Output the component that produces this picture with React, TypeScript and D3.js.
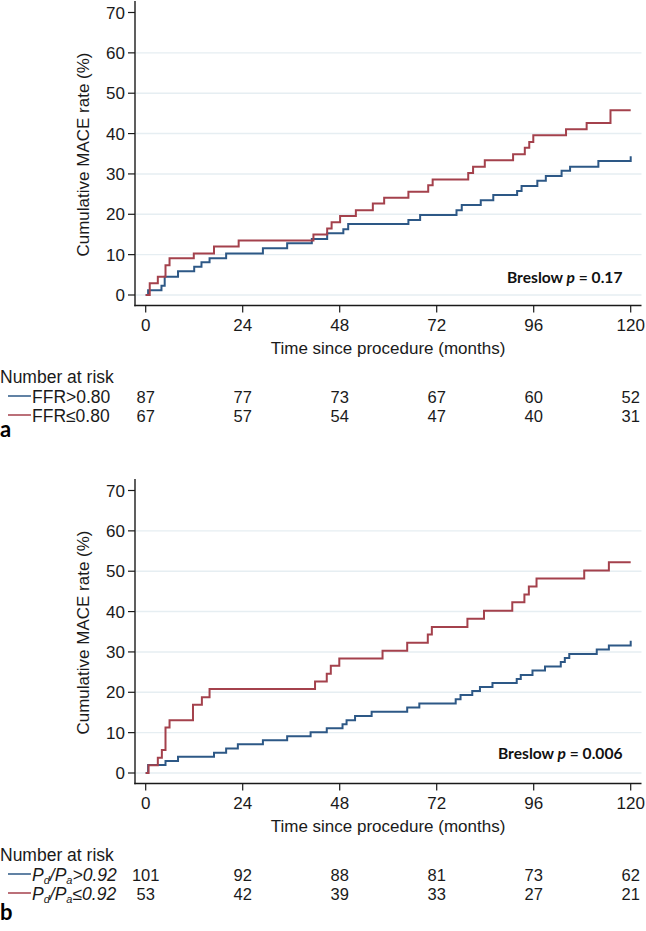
import React from "react";
import * as d3 from "d3";

const xTicks = [0, 24, 48, 72, 96, 120];
const yTicks = [0, 10, 20, 30, 40, 50, 60, 70];
const gridValues = [0, 10, 20, 30, 40, 50, 60];

// Panel a: FFR>0.80 (blue), FFR<=0.80 (red)
const aBlueTimes = [0.6, 3.9, 4.7, 8.0, 12.0, 13.8, 15.8, 19.9, 29.0, 35.0, 41.1, 44.9, 48.9, 50.1, 65.0, 67.9, 76.9, 78.2, 82.9, 86.0, 91.9, 93.0, 96.9, 99.0, 102.9, 105.0, 112.0, 120];
const aBlueValues = [1.2, 2.3, 4.5, 5.9, 7.0, 8.1, 9.1, 10.3, 11.6, 12.8, 13.9, 15.3, 16.3, 17.6, 18.6, 19.8, 21.0, 22.3, 23.5, 24.8, 25.8, 27.0, 28.3, 29.5, 30.8, 31.8, 33.2, 34.4];
const aRedTimes = [1.0, 3.0, 4.9, 5.9, 11.9, 16.9, 23.0, 41.5, 44.9, 46.0, 48.1, 52.0, 56.2, 59.0, 65.0, 69.9, 71.0, 79.8, 81.0, 83.9, 90.9, 93.8, 94.9, 95.9, 104.0, 109.1, 115.0];
const aRedValues = [2.9, 4.5, 7.4, 9.1, 10.3, 12.0, 13.5, 15.0, 16.5, 18.0, 19.6, 21.0, 22.7, 24.1, 25.6, 27.2, 28.6, 30.2, 31.8, 33.4, 34.9, 36.5, 37.9, 39.6, 41.1, 42.6, 45.8];

// Panel b: Pd/Pa>0.92 (blue), Pd/Pa<=0.92 (red)
const bBlueTimes = [0.6, 4.9, 8.0, 16.9, 19.9, 22.8, 29.0, 35.0, 40.8, 44.8, 48.7, 49.7, 51.8, 55.9, 64.7, 67.7, 76.7, 77.9, 80.8, 82.7, 85.8, 91.8, 92.8, 95.7, 98.8, 102.7, 103.7, 104.8, 111.6, 114.6, 120];
const bBlueValues = [2.0, 3.0, 4.0, 5.0, 6.1, 7.1, 8.1, 9.1, 10.1, 11.1, 12.1, 13.1, 14.1, 15.2, 16.2, 17.2, 18.3, 19.3, 20.3, 21.3, 22.3, 23.3, 24.3, 25.4, 26.4, 27.5, 28.5, 29.5, 30.6, 31.6, 32.8];
const bRedTimes = [0.7, 3.0, 4.0, 4.9, 5.9, 11.7, 13.9, 15.8, 41.9, 44.8, 45.8, 47.9, 58.6, 64.7, 69.8, 70.8, 79.6, 83.7, 90.7, 93.7, 94.8, 96.7, 108.5, 114.6];
const bRedValues = [1.9, 3.8, 5.7, 11.3, 13.1, 16.9, 18.8, 20.8, 22.7, 24.6, 26.6, 28.4, 30.3, 32.3, 34.3, 36.2, 38.2, 40.2, 42.3, 44.2, 46.2, 48.2, 50.2, 52.2];

const aRiskBlue = [87, 77, 73, 67, 60, 52];
const aRiskRed = [67, 57, 54, 47, 40, 31];
const bRiskBlue = [101, 92, 88, 81, 73, 62];
const bRiskRed = [53, 42, 39, 33, 27, 21];

const BLUE = "#2d5886";
const RED = "#a4414c";
const FONT = "'Liberation Sans', Arial, sans-serif";
const BOLD_FONT = "Lato, 'Open Sans', sans-serif";

function stepPoints(times: number[], values: number[], end: number): [number, number][] {
  const pts: [number, number][] = [[0, 0]];
  times.forEach((t, i) => pts.push([t, values[i]]));
  const last = pts[pts.length - 1];
  if (last[0] < end) pts.push([end, last[1]]);
  return pts;
}

type PanelProps = {
  oy: number;
  blueT: number[]; blueV: number[];
  redT: number[]; redV: number[];
  riskBlue: number[]; riskRed: number[];
  legendBlue: React.ReactNode; legendRed: React.ReactNode;
  pValue: string; pX: number; pY: number;
};

function Panel(p: PanelProps) {
  const { oy } = p;
  const x = d3.scaleLinear().domain([0, 120]).range([145.7, 630.7]);
  const y = d3.scaleLinear().domain([0, 70]).range([295 + oy, 12.5 + oy]);
  const line = d3.line<[number, number]>().x(d => x(d[0])).y(d => y(d[1])).curve(d3.curveStepAfter);
  const axisX = 135;
  const axisY = 305.5 + oy;
  const right = 641.5;
  const top = 1 + oy;
  return (
    <g>
      {gridValues.map(v => (
        <line key={"g" + v} x1={axisX + 1} x2={right} y1={y(v)} y2={y(v)} stroke="#e6eef2" strokeWidth={1.4} />
      ))}
      <path d={line(stepPoints(p.blueT, p.blueV, 120)) || ""} fill="none" stroke={BLUE} strokeWidth={2} />
      <path d={line(stepPoints(p.redT, p.redV, 120)) || ""} fill="none" stroke={RED} strokeWidth={2} />
      <line x1={axisX} x2={axisX} y1={top} y2={axisY + 0.7} stroke="#1a1a1a" strokeWidth={1.4} />
      <line x1={axisX - 0.7} x2={right} y1={axisY} y2={axisY} stroke="#1a1a1a" strokeWidth={1.4} />
      {yTicks.map(v => (
        <g key={"y" + v}>
          <line x1={axisX - 7} x2={axisX} y1={y(v)} y2={y(v)} stroke="#1a1a1a" strokeWidth={1.2} />
          <text x={axisX - 10} y={y(v) + 6} textAnchor="end" fontSize={17} fontFamily={FONT} fill="#1a1a1a">{v}</text>
        </g>
      ))}
      {xTicks.map(t => (
        <g key={"x" + t}>
          <line x1={x(t)} x2={x(t)} y1={axisY} y2={axisY + 7} stroke="#1a1a1a" strokeWidth={1.2} />
          <text x={x(t)} y={331 + oy} textAnchor="middle" fontSize={17} fontFamily={FONT} fill="#1a1a1a">{t}</text>
        </g>
      ))}
      <text x={388} y={354 + oy} textAnchor="middle" fontSize={17} fontFamily={FONT} fill="#1a1a1a">Time since procedure (months)</text>
      <text transform={`translate(89, ${154.5 + oy}) rotate(-90)`} textAnchor="middle" fontSize={17} fontFamily={FONT} fill="#1a1a1a">Cumulative MACE rate (%)</text>
      <text x={p.pX} y={p.pY} fontSize={15.6} fontWeight="bold" fontFamily={BOLD_FONT} fill="#111">
        Breslow <tspan fontStyle="italic">p</tspan> = {p.pValue}
      </text>
      <text x={0} y={383 + oy} fontSize={17.5} fontFamily={FONT} fill="#1a1a1a">Number at risk</text>
      <line x1={8} x2={31} y1={396 + oy} y2={396 + oy} stroke={BLUE} strokeWidth={1.5} />
      <line x1={8} x2={31} y1={415 + oy} y2={415 + oy} stroke={RED} strokeWidth={1.5} />
      <text x={32} y={403 + oy} fontSize={17.5} fontFamily={FONT} fill="#1a1a1a">{p.legendBlue}</text>
      <text x={32} y={422 + oy} fontSize={17.5} fontFamily={FONT} fill="#1a1a1a">{p.legendRed}</text>
      {xTicks.map((t, i) => (
        <g key={"r" + t}>
          <text x={x(t)} y={403 + oy} textAnchor="middle" fontSize={16.5} fontFamily={FONT} fill="#1a1a1a">{p.riskBlue[i]}</text>
          <text x={x(t)} y={422 + oy} textAnchor="middle" fontSize={16.5} fontFamily={FONT} fill="#1a1a1a">{p.riskRed[i]}</text>
        </g>
      ))}
    </g>
  );
}

function PdPa({ op }: { op: string }) {
  return (
    <tspan fontStyle="italic">
      P<tspan fontSize={11} dy={3}>d</tspan><tspan dy={-3}>/P</tspan><tspan fontSize={11} dy={3}>a</tspan><tspan dy={-3}>{op}0.92</tspan>
    </tspan>
  );
}

export default function App() {
  const ob = 478;
  return (
    <svg width={646} height={931} style={{ position: "absolute", left: 0, top: 0, background: "#fff" }}>
      <rect x={0} y={0} width={646} height={931} fill="#fff" />
      <Panel oy={0} blueT={aBlueTimes} blueV={aBlueValues} redT={aRedTimes} redV={aRedValues}
        riskBlue={aRiskBlue} riskRed={aRiskRed}
        legendBlue={"FFR>0.80"} legendRed={"FFR≤0.80"}
        pValue="0.17" pX={507} pY={282.5} />
      <Panel oy={ob} blueT={bBlueTimes} blueV={bBlueValues} redT={bRedTimes} redV={bRedValues}
        riskBlue={bRiskBlue} riskRed={bRiskRed}
        legendBlue={<PdPa op=">" />} legendRed={<PdPa op="≤" />}
        pValue="0.006" pX={498} pY={758.5} />
      <text x={0} y={437} fontSize={22} fontWeight="bold" fontFamily={BOLD_FONT} fill="#000">a</text>
      <text x={0} y={920} fontSize={22} fontWeight="bold" fontFamily={BOLD_FONT} fill="#000">b</text>
    </svg>
  );
}
